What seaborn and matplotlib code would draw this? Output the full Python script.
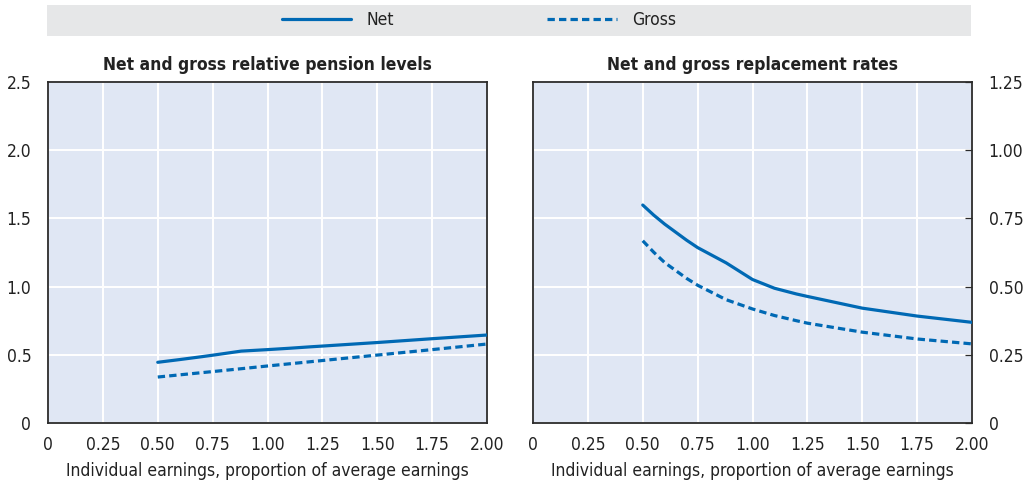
import matplotlib
matplotlib.use("Agg")
import matplotlib.pyplot as plt
from matplotlib import font_manager
from matplotlib.lines import Line2D
from matplotlib.patches import Rectangle
import seaborn as sns
import pandas as pd

# ---- data ----
earnings = [0.5, 0.55, 0.6, 0.7, 0.75, 0.88, 1.0, 1.1, 1.2, 1.25, 1.5, 1.75, 2.0]
net_level = [0.445, 0.455, 0.465, 0.486, 0.497, 0.527, 0.538, 0.548, 0.559, 0.564, 0.590, 0.618, 0.645]
gross_level = [0.337, 0.345, 0.353, 0.369, 0.377, 0.398, 0.418, 0.434, 0.450, 0.458, 0.498, 0.538, 0.579]
net_rr = [0.799, 0.762, 0.729, 0.670, 0.643, 0.587, 0.526, 0.494, 0.473, 0.464, 0.421, 0.392, 0.369]
gross_rr = [0.668, 0.626, 0.588, 0.530, 0.505, 0.452, 0.418, 0.394, 0.375, 0.366, 0.333, 0.308, 0.290]

series_names = ["Net", "Gross"]
titles = ["Net and gross relative pension levels", "Net and gross replacement rates"]
xlabel = "Individual earnings, proportion of average earnings"
x_ticks = [0, 0.25, 0.5, 0.75, 1.0, 1.25, 1.5, 1.75, 2.0]
x_ticklabels = ["0", "0.25", "0.50", "0.75", "1.00", "1.25", "1.50", "1.75", "2.00"]
left_yticks = [0, 0.5, 1.0, 1.5, 2.0, 2.5]
left_yticklabels = ["0", "0.5", "1.0", "1.5", "2.0", "2.5"]
right_yticks = [0, 0.25, 0.5, 0.75, 1.0, 1.25]
right_yticklabels = ["0", "0.25", "0.50", "0.75", "1.00", "1.25"]

# ---- style ----
sns.set_style("white")
avail = {f.name for f in font_manager.fontManager.ttflist}
fam = "Liberation Sans Narrow" if "Liberation Sans Narrow" in avail else "DejaVu Sans"
plt.rcParams["font.family"] = [fam, "DejaVu Sans"]
if fam == "DejaVu Sans":
    plt.rcParams["font.stretch"] = "condensed"

BLUE = "#0069B4"
BG = "#E0E7F4"
SPINE = "#2b2b2b"
TXT = "#222222"

def long_df(y_net, y_gross):
    return pd.DataFrame({
        "earnings": earnings + earnings,
        "value": y_net + y_gross,
        "type": [series_names[0]] * len(earnings) + [series_names[1]] * len(earnings),
    })

fig = plt.figure(figsize=(10.24, 4.87), dpi=100)
W, H = 1024, 487
axL = fig.add_axes([48 / W, (H - 423) / H, (487 - 48) / W, (423 - 82) / H])
axR = fig.add_axes([533 / W, (H - 423) / H, (972 - 533) / W, (423 - 82) / H])

dashes = {"Net": "", "Gross": (2.3, 1.3)}
for ax, df, yt, ytl, ymax, title in [
    (axL, long_df(net_level, gross_level), left_yticks, left_yticklabels, 2.5, titles[0]),
    (axR, long_df(net_rr, gross_rr), right_yticks, right_yticklabels, 1.25, titles[1]),
]:
    ax.set_facecolor(BG)
    sns.lineplot(data=df, x="earnings", y="value", style="type", dashes=dashes,
                 color=BLUE, linewidth=2.3, legend=False, ax=ax, zorder=3)
    ax.set_xlim(0, 2.0)
    ax.set_ylim(0, ymax)
    ax.set_xticks(x_ticks)
    ax.set_xticklabels(x_ticklabels)
    ax.set_yticks(yt)
    ax.set_yticklabels(ytl)
    ax.grid(True, color="white", linewidth=1.4, zorder=1)
    ax.set_axisbelow(True)
    for s in ax.spines.values():
        s.set_visible(True)
        s.set_color(SPINE)
        s.set_linewidth(1.3)
    ax.tick_params(axis="both", direction="in", length=5, width=0.9, color=SPINE,
                   labelsize=12.5, labelcolor=TXT)
    ax.tick_params(axis="x", pad=9)
    ax.set_xlabel(xlabel, fontsize=12.5, color=TXT, labelpad=6)
    ax.set_ylabel("")
    ax.set_title(title, fontsize=12.5, fontweight="bold", color=TXT, pad=9)

axL.tick_params(axis="y", pad=12)
axR.yaxis.tick_right()
axR.tick_params(axis="y", left=False, right=True, labelleft=False, labelright=True, pad=12)

# legend band
fig.patches.append(Rectangle((47 / W, (H - 36) / H), (971 - 47) / W, 31 / H,
                             transform=fig.transFigure, facecolor="#E6E7E8",
                             edgecolor="none", zorder=0))
handles = [Line2D([], [], color=BLUE, linewidth=2.3),
           Line2D([], [], color=BLUE, linewidth=2.3, linestyle=(0, (2.3, 1.3)))]
fig.legend(handles, series_names, loc="center", bbox_to_anchor=(479 / W, (H - 20) / H),
           ncol=2, frameon=False, fontsize=12.5, handlelength=4.0, handletextpad=0.9,
           columnspacing=8.8, labelcolor=TXT)

fig.savefig("out.png", dpi=100)
